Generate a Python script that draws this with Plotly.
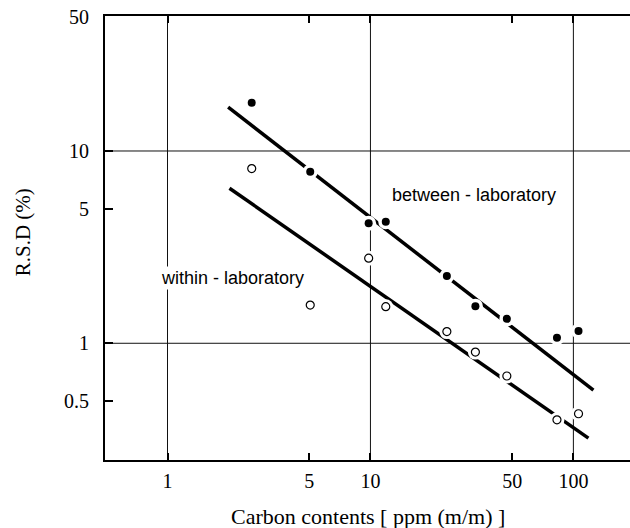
import plotly.graph_objects as go

# ---- data ----
carbon_ppm = [2.6, 5.05, 9.8, 11.9, 23.8, 32.9, 47, 83, 106]
rsd_between = [17.8, 7.8, 4.21, 4.29, 2.24, 1.56, 1.34, 1.07, 1.16]
rsd_within = [8.1, 1.58, 2.77, 1.55, 1.15, 0.90, 0.676, 0.40, 0.43]

fit_between_x = [1.99, 125.5]
fit_between_y = [16.9, 0.571]
fit_within_x = [2.02, 118.6]
fit_within_y = [6.4, 0.321]

x_tickvals = [1, 5, 10, 50, 100]
x_ticktext = ["1", "5", "10", "50", "100"]
y_tickvals = [0.5, 1, 5, 10, 50]
y_ticktext = ["0.5", "1", "5", "10", "50"]
x_grid = [1, 10, 100]
y_grid = [1, 10]

serif = "Liberation Serif, Times New Roman, serif"
sans = "Liberation Sans, Arial, sans-serif"

fig = go.Figure()

# regression lines
fig.add_trace(go.Scatter(x=fit_between_x, y=fit_between_y, mode="lines",
                         line=dict(color="black", width=3.5), hoverinfo="skip"))
fig.add_trace(go.Scatter(x=fit_within_x, y=fit_within_y, mode="lines",
                         line=dict(color="black", width=3.5), hoverinfo="skip"))

# white halos around points (break the lines at the markers)
for ys in (rsd_between, rsd_within):
    fig.add_trace(go.Scatter(x=carbon_ppm, y=ys, mode="markers",
                             marker=dict(size=15, color="white", line=dict(width=0)),
                             hoverinfo="skip"))

# points
fig.add_trace(go.Scatter(x=carbon_ppm, y=rsd_between, mode="markers",
                         name="between - laboratory",
                         marker=dict(size=8, color="black", line=dict(width=0))))
fig.add_trace(go.Scatter(x=carbon_ppm, y=rsd_within, mode="markers",
                         name="within - laboratory",
                         marker=dict(size=8, color="white", line=dict(color="black", width=1.2))))

shapes = []
for gx in x_grid:
    shapes.append(dict(type="line", xref="x", yref="paper", x0=gx, x1=gx, y0=0, y1=1,
                       line=dict(color="#111", width=1), layer="below"))
for gy in y_grid:
    shapes.append(dict(type="line", xref="paper", yref="y", x0=0, x1=1, y0=gy, y1=gy,
                       line=dict(color="#111", width=1), layer="below"))

fig.update_layout(
    width=630, height=528,
    margin=dict(l=105, r=0, t=16, b=68, autoexpand=False),
    paper_bgcolor="white", plot_bgcolor="white",
    showlegend=False,
    shapes=shapes,
    xaxis=dict(type="log", range=[-0.308, 2.279], automargin=False,
               tickmode="array", tickvals=x_tickvals, ticktext=x_ticktext,
               ticks="inside", ticklen=7, tickwidth=1.5, tickcolor="black",
               showgrid=False, zeroline=False,
               showline=True, linecolor="black", linewidth=2, mirror="ticks",
               tickfont=dict(family=serif, size=20, color="black"),
               ticklabelstandoff=2),
    yaxis=dict(type="log", range=[-0.607, 1.702], automargin=False,
               tickmode="array", tickvals=y_tickvals, ticktext=y_ticktext,
               ticks="inside", ticklen=8, tickwidth=1.5, tickcolor="black",
               showgrid=False, zeroline=False,
               showline=True, linecolor="black", linewidth=2, mirror=False,
               tickfont=dict(family=serif, size=20, color="black"),
               ticklabelstandoff=10),
    annotations=[
        dict(text="between - laboratory", xref="paper", yref="paper",
             x=0.703, y=0.597, xanchor="center", yanchor="middle",
             showarrow=False, bgcolor="white",
             font=dict(family=sans, size=18, color="black")),
        dict(text="within - laboratory", xref="paper", yref="paper",
             x=0.2434, y=0.41, xanchor="center", yanchor="middle",
             showarrow=False, bgcolor="white",
             font=dict(family=sans, size=18, color="black")),
        dict(text="Carbon contents [ ppm (m/m) ]", xref="paper", yref="paper",
             x=0.5, y=-0.128, xanchor="center", yanchor="middle", showarrow=False,
             font=dict(family=serif, size=22, color="black")),
        dict(text="R.S.D (%)", xref="paper", yref="paper", textangle=-90,
             x=-0.157, y=0.512, xanchor="center", yanchor="middle", showarrow=False,
             font=dict(family=serif, size=21, color="black")),
    ],
)

fig.write_html(
    "out.html",
    config={"displayModeBar": False},
    post_script="document.body.style.margin='0';document.body.style.overflow='hidden';",
)
